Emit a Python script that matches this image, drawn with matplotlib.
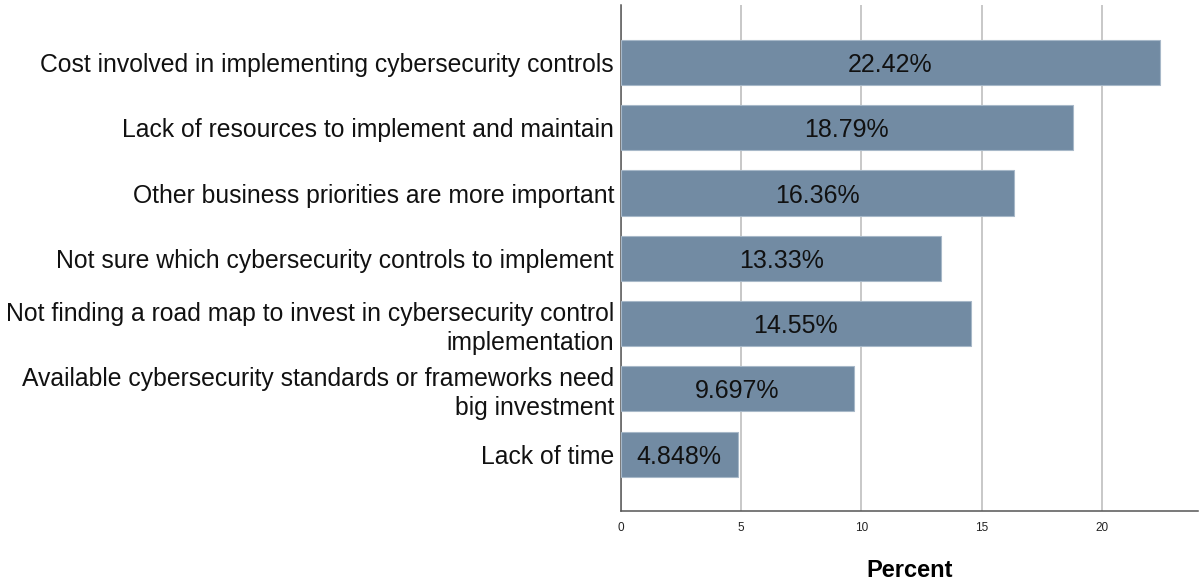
import numpy as np
import matplotlib.pyplot as plt

plt.rcParams['font.family'] = ['Liberation Sans', 'DejaVu Sans']

# barriers, listed top to bottom
reasons = [
    "Cost involved in implementing cybersecurity controls",
    "Lack of resources to implement and maintain",
    "Other business priorities are more important",
    "Not sure which cybersecurity controls to implement",
    "Not finding a road map to invest in cybersecurity control\nimplementation",
    "Available cybersecurity standards or frameworks need\nbig investment",
    "Lack of time",
]
percent = [22.42, 18.79, 16.36, 13.33, 14.55, 9.697, 4.848]
value_labels = ["22.42%", "18.79%", "16.36%", "13.33%", "14.55%", "9.697%", "4.848%"]
xticks = [0, 5, 10, 15, 20]

fig = plt.figure(figsize=(12.02, 5.80), dpi=100)
ax = fig.add_axes([0.5166, 0.119, 0.4801, 0.8724])

y = np.arange(len(reasons))
ax.barh(y, percent, height=0.69, color="#728ba3",
        edgecolor="#a7b8c8", linewidth=0.8, zorder=3)

for yi, v, lab in zip(y, percent, value_labels):
    ax.text(v / 2, yi, lab, ha="center", va="center_baseline",
            fontsize=18, color="#111111", zorder=4)

ax.set_xlim(0, 24)
ax.set_ylim(len(reasons) - 1 + 0.87, -0.88)
ax.set_yticks(y)
ax.set_yticklabels(reasons, fontsize=17.8, color="#111111", linespacing=1.25)
ax.set_xticks(xticks)
ax.set_xticklabels([str(t) for t in xticks], fontsize=8.5, color="#222222")
ax.tick_params(axis="both", length=0)
ax.tick_params(axis="y", pad=5)
ax.tick_params(axis="x", pad=8)

ax.grid(axis="x", color="#c4c4c4", linewidth=1.3, zorder=0)
ax.set_axisbelow(True)

for s in ["top", "right"]:
    ax.spines[s].set_visible(False)
ax.spines["left"].set_color("#555555")
ax.spines["bottom"].set_color("#555555")
ax.spines["left"].set_linewidth(1.1)
ax.spines["bottom"].set_linewidth(1.1)

ax.set_xlabel("Percent", fontsize=17, fontweight="bold", labelpad=18)

fig.savefig("out.png", dpi=100)
